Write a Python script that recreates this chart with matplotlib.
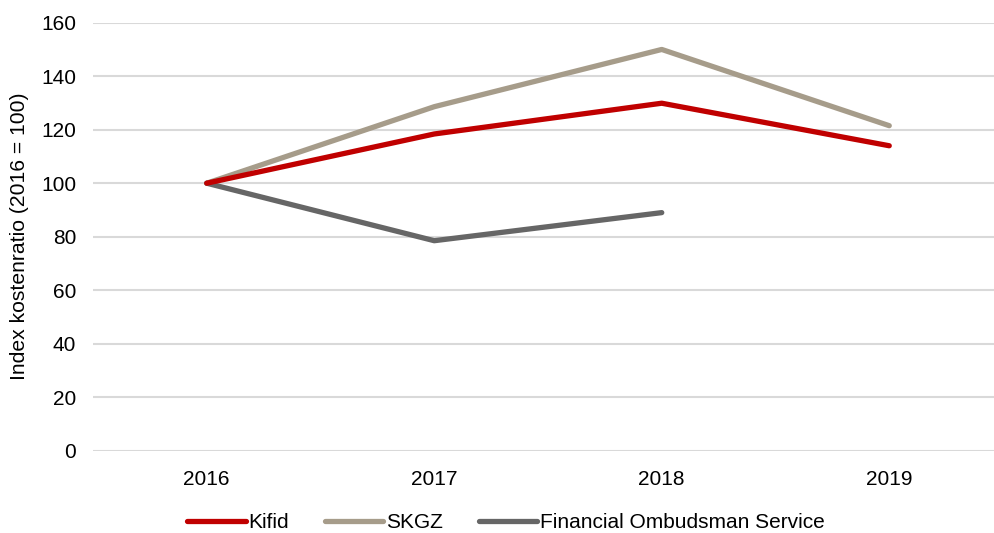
import matplotlib
matplotlib.use('Agg')
import matplotlib.pyplot as plt

# Data
years = ['2016', '2017', '2018', '2019']
kifid = [100, 118.4, 129.9, 114.0]
skgz = [100, 128.6, 150.0, 121.5]
fos = [100, 78.5, 89.0]

plt.rcParams['font.family'] = ['Liberation Sans', 'DejaVu Sans']

fig = plt.figure(figsize=(9.95, 5.33), dpi=100)
ax = fig.add_axes([93 / 995, 1 - 450.7 / 533, 910 / 995, 428 / 533])

x = list(range(len(years)))
ax.plot(x, kifid, color='#C00000', lw=3.8, solid_capstyle='round', solid_joinstyle='round', label='Kifid', zorder=3)
ax.plot(x, skgz, color='#A69C8A', lw=3.8, solid_capstyle='round', solid_joinstyle='round', label='SKGZ', zorder=2)
ax.plot(x[:len(fos)], fos, color='#666666', lw=3.8, solid_capstyle='round', solid_joinstyle='round',
        label='Financial Ombudsman Service', zorder=2)

ax.set_xlim(-0.5, 3.5)
ax.set_ylim(0, 160)
ax.set_yticks(range(0, 161, 20))
ax.set_xticks(x)
ax.set_xticklabels(years)
ax.tick_params(axis='both', length=0, labelsize=15, colors='#000000')
ax.tick_params(axis='x', pad=14)
ax.tick_params(axis='y', pad=12)
ax.grid(axis='y', color='#D9D9D9', lw=1.5)
ax.set_axisbelow(True)
for s in ax.spines.values():
    s.set_visible(False)

ax.set_ylabel('Index kostenratio (2016 = 100)', fontsize=15.2)
ax.yaxis.set_label_coords(-0.070, 0.5)

fig.legend(loc='center', bbox_to_anchor=(506 / 995, 1 - 523 / 533), ncol=3, frameon=False,
           fontsize=15, handlelength=2.8, handletextpad=0.15, columnspacing=1.7)

fig.savefig('out.png', dpi=100)
